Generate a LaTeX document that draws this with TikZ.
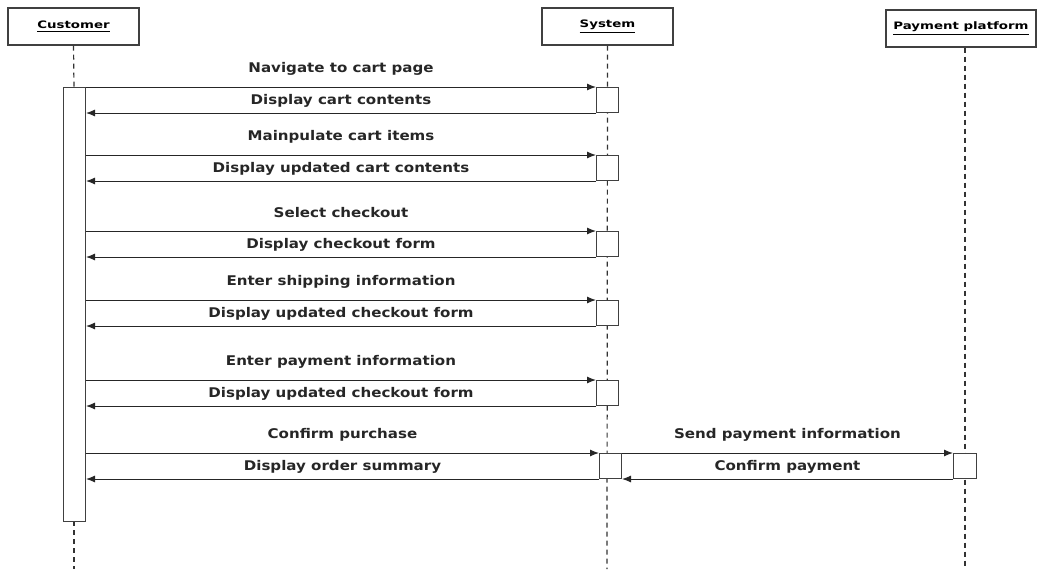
\documentclass[tikz,border=0pt]{standalone}
\usepackage{fontspec}
\setmainfont{DejaVu Sans}
\newfontfamily\lblfont[FakeStretch=1.13]{DejaVu Sans}
\newfontfamily\headfont[FakeStretch=1.3]{DejaVu Sans}
\usetikzlibrary{arrows.meta,positioning}
\newlength\px
\setlength\px{0.75pt}

\begin{document}
\begin{tikzpicture}[x=\px,y=-\px,
	head/.style={draw=black!75,line width=1.3\px,minimum width=131\px,minimum height=37\px,inner sep=0,font=\headfont\bfseries\fontsize{7.7}{9}\selectfont},
	act/.style={draw=black!75,fill=white,line width=1\px,minimum width=22\px,minimum height=25\px,anchor=north west,inner sep=0},
	life/.style={black!80,line width=1.2\px,dash pattern=on 5\px off 4\px},
	msg/.style={-{Latex[length=6.75pt,width=5.25pt]},black!85,line width=1\px},
	lbl/.style={font=\lblfont\bfseries\fontsize{10}{11}\selectfont,inner sep=0}]
		\useasboundingbox (0,0) rectangle (1040,569);
		% heads
		\node[head] (chead) at (73.5,26.5) {\underline{Customer}};
		\node[head] (shead) at (607.5,26.5) {\underline{System}};
		\node[head,minimum width=150\px] (phead) at (961,28.5) {\underline{Payment platform}};
		\coordinate (cend) at (74,569);
		\coordinate (send) at (607,569);
		\coordinate (pend) at (965,569);
		% lifelines
		\draw[life] (chead.south) -- (74,87);
		\draw[life] (74,521) -- (cend);
		\draw[life] (shead.south) -- (send);
		\draw[life] (phead.south -| pend) -- (pend);
		% activations
		\node[act,minimum height=434\px] (cact) at (63,87) {};
		\foreach \y/\req/\rep [count=\i] in {87/Navigate to cart page/Display cart contents,
			155/Mainpulate cart items/Display updated cart contents,
			231/Select checkout/Display checkout form,
			300/Enter shipping information/Display updated checkout form,
			380/Enter payment information/Display updated checkout form}{
			\node[act] (s\i) at (596,\y) {};
			\draw[msg] (cact.east |- s\i.north west) -- node[lbl,midway,yshift=18\px] {\req} (s\i.north west);
			\draw[msg] (s\i.south west) -- node[lbl,midway,yshift=12\px] {\rep} (cact.east |- s\i.south west);
		}
		\node[act] (s6) at (599,453) {};
		\node[act,minimum width=23\px] (p1) at (953,453) {};
		\draw[msg] (cact.east |- s6.north west) -- node[lbl,midway,yshift=18\px] {Confirm purchase} (s6.north west);
		\draw[msg] (s6.south west) -- node[lbl,midway,yshift=12\px] {Display order summary} (cact.east |- s6.south west);
		\draw[msg] (s6.north east) -- node[lbl,midway,yshift=18\px] {Send payment information} (p1.north west);
		\draw[msg] (p1.south west) -- node[lbl,midway,yshift=12\px] {Confirm payment} (s6.south east);
	\end{tikzpicture}
\end{document}
